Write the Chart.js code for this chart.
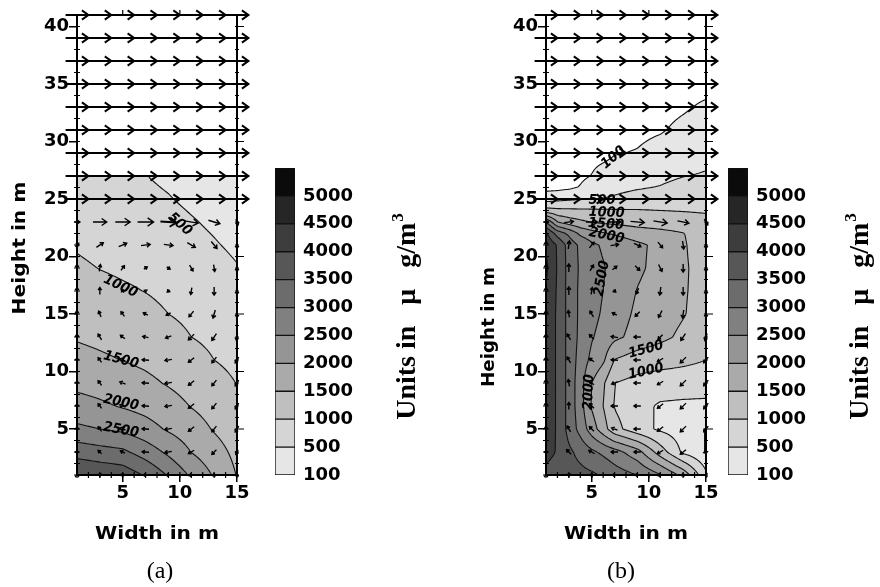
<!DOCTYPE html>
<html>
<head>
<meta charset="utf-8">
<script src="https://cdn.jsdelivr.net/npm/chart.js@4.4.1/dist/chart.umd.min.js"></script>
<style>
  body { margin: 0; background: #fff; width: 880px; height: 587px; position: relative; overflow: hidden; }
  canvas { position: absolute; top: 0; }
</style>
</head>
<body>
<canvas id="panelA" width="262" height="587" style="left:0px"></canvas>
<canvas id="barA" width="178" height="587" style="left:262px"></canvas>
<canvas id="panelB" width="280" height="587" style="left:440px"></canvas>
<canvas id="barB" width="165" height="587" style="left:715px"></canvas>
<script>
// axis ticks
const widthTicks = [5, 10, 15];
const heightTicks = [5, 10, 15, 20, 25, 30, 35, 40];

// colour scale (µg/m3)
const levels = [100, 500, 1000, 1500, 2000, 2500, 3000, 3500, 4000, 4500, 5000];
const levelLabels = ['100', '500', '1000', '1500', '2000', '2500', '3000', '3500', '4000', '4500', '5000'];
const bandGrays = [230, 213, 191, 170, 149, 128, 108, 87, 61, 38, 11];

// (a) concentration field, rows bottom -> top
const gridXA = [1, 3, 5, 7, 9, 11, 13, 15];
const gridYA = [1, 3, 5, 7, 9, 11, 13, 15, 17, 19, 21, 23, 25, 26.9, 27.1, 41];
const concA = [
  [4000, 3900, 3800, 3450, 2950, 2420, 1950, 1480],
  [3300, 3190, 3100, 2770, 2400, 1990, 1700, 1370],
  [2600, 2500, 2400, 2190, 1940, 1730, 1460, 1250],
  [2180, 2080, 1960, 1840, 1690, 1480, 1310, 1110],
  [1880, 1810, 1720, 1600, 1460, 1320, 1150, 990],
  [1650, 1570, 1490, 1410, 1310, 1160, 1000, 900],
  [1460, 1400, 1340, 1270, 1150, 1000, 910, 800],
  [1330, 1260, 1200, 1130, 1000, 910, 810, 710],
  [1200, 1130, 1060, 990, 900, 810, 720, 620],
  [1070, 990, 930, 880, 810, 720, 630, 520],
  [960, 890, 830, 770, 710, 620, 530, 430],
  [860, 800, 740, 670, 620, 530, 440, 340],
  [790, 720, 660, 580, 520, 430, 350, 240],
  [720, 660, 600, 510, 440, 350, 300, 200],
  [null, null, null, null, null, null, null, null],
  [null, null, null, null, null, null, null, null]
];

// (b) concentration field, rows bottom -> top
const gridXB = [1, 2, 3, 4, 5, 6, 7, 9, 11, 13, 15];
const gridYB = [1, 3, 5, 7, 9, 11, 13, 15, 17, 19, 21, 22, 23, 24, 25, 26, 27, 29, 31, 33, 35, 41];
const concB = [
  [3800, 3750, 3700, 3650, 3580, 3450, 3250, 3000, 2550, 1850, 600],
  [4200, 3950, 3600, 3350, 3100, 2900, 2700, 2200, 1250, 400, 80],
  [4300, 3940, 3330, 2830, 2250, 1720, 1170, 700, 420, 250, 90],
  [4300, 3940, 3330, 2710, 1950, 1500, 970, 680, 430, 380, 350],
  [4300, 3940, 3330, 2710, 2000, 1580, 1000, 850, 800, 800, 800],
  [4300, 3940, 3330, 2800, 2380, 2090, 1480, 1250, 1150, 1080, 1000],
  [4300, 3940, 3330, 2880, 2540, 2330, 2110, 1830, 1620, 1400, 1150],
  [4300, 3940, 3330, 2900, 2650, 2440, 2230, 1910, 1720, 1530, 1300],
  [4450, 3940, 3330, 2900, 2700, 2500, 2320, 1980, 1750, 1540, 1350],
  [4600, 3960, 3330, 2930, 2720, 2530, 2380, 2090, 1840, 1550, 1350],
  [4450, 3950, 3300, 2900, 2600, 2440, 2330, 2100, 1870, 1540, 1300],
  [4100, 3300, 2900, 2400, 2200, 2050, 1950, 1750, 1650, 1520, 1250],
  [3000, 2000, 1750, 1600, 1470, 1420, 1380, 1300, 1250, 1200, 1150],
  [1200, 1120, 1100, 1080, 1070, 1060, 1050, 1030, 1000, 980, 950],
  [300, 380, 430, 470, 500, 510, 560, 680, 750, 800, 830],
  [0, 0, 40, 120, 250, 330, 380, 460, 520, 620, 700],
  [0, 0, 0, 40, 110, 230, 280, 360, 410, 490, 530],
  [0, 0, 0, 0, 0, 0, 80, 120, 230, 335, 400],
  [0, 0, 0, 0, 0, 0, 0, 20, 70, 180, 270],
  [0, 0, 0, 0, 0, 0, 0, 0, 0, 60, 150],
  [0, 0, 0, 0, 0, 0, 0, 0, 0, 0, 0],
  [0, 0, 0, 0, 0, 0, 0, 0, 0, 0, 0]
];

// wind vectors, rows top (41) -> bottom (1)
const arrowCols = [1, 3, 5, 7, 9, 11, 13, 15];
const arrowRows = [41, 39, 37, 35, 33, 31, 29, 27, 25, 23, 21, 19, 17, 15, 13, 11, 9, 7, 5, 3, 1];
const windUA = [
  [1, 1, 1, 1, 1, 1, 1, 1],
  [1, 1, 1, 1, 1, 1, 1, 1],
  [1, 1, 1, 1, 1, 1, 1, 1],
  [1, 1, 1, 1, 1, 1, 1, 1],
  [1, 1, 1, 1, 1, 1, 1, 1],
  [1, 1, 1, 1, 1, 1, 1, 1],
  [1, 1, 1, 1, 1, 1, 1, 1],
  [1, 1, 1, 1, 1, 1, 1, 1],
  [1, 1, 1, 1, 1, 1, 1, 1],
  [0.25, 0.6, 0.65, 0.7, 0.7, 0.6, 0.5, 0.1],
  [0.15, 0.3, 0.35, 0.4, 0.4, 0.35, 0.25, 0],
  [0, 0.05, 0.15, 0.15, 0.15, 0.15, 0.05, 0],
  [0, 0, -0.1, -0.1, -0.1, -0.05, 0, 0],
  [0, -0.1, -0.15, -0.2, -0.2, -0.2, -0.1, 0],
  [0, -0.15, -0.2, -0.25, -0.25, -0.25, -0.2, -0.05],
  [0, -0.15, -0.25, -0.3, -0.3, -0.25, -0.2, -0.15],
  [0, -0.15, -0.25, -0.3, -0.3, -0.25, -0.2, -0.15],
  [0, -0.15, -0.25, -0.3, -0.3, -0.25, -0.2, -0.15],
  [0, -0.15, -0.25, -0.3, -0.3, -0.25, -0.2, -0.15],
  [0, -0.15, -0.2, -0.3, -0.3, -0.25, -0.2, -0.1],
  [0, -0.1, -0.15, -0.2, -0.2, -0.2, -0.15, -0.1]
];
const windVA = [
  [0, 0, 0, 0, 0, 0, 0, 0],
  [0, 0, 0, 0, 0, 0, 0, 0],
  [0, 0, 0, 0, 0, 0, 0, 0],
  [0, 0, 0, 0, 0, 0, 0, 0],
  [0, 0, 0, 0, 0, 0, 0, 0],
  [0, 0, 0, 0, 0, 0, 0, 0],
  [0, 0, 0, 0, 0, 0, 0, 0],
  [0, 0, 0, 0, 0, 0, 0, 0],
  [0, 0, 0, 0, 0, 0, 0, 0],
  [0, 0, 0, 0, -0.05, -0.1, -0.15, -0.25],
  [0.15, 0.2, 0.15, 0.05, -0.05, -0.2, -0.3, -0.3],
  [0.3, 0.3, 0.2, 0.1, -0.1, -0.25, -0.3, -0.3],
  [0.3, 0.3, 0.15, 0.05, -0.1, -0.3, -0.35, -0.3],
  [0.3, 0.25, 0.2, 0.1, -0.1, -0.25, -0.35, -0.3],
  [0.25, 0.25, 0.15, 0.05, -0.1, -0.25, -0.3, -0.3],
  [0.2, 0.2, 0.1, 0.02, -0.05, -0.2, -0.25, -0.25],
  [0.2, 0.2, 0.1, 0.02, -0.05, -0.2, -0.25, -0.25],
  [0.2, 0.2, 0.1, 0.02, -0.05, -0.2, -0.25, -0.25],
  [0.2, 0.2, 0.1, 0.02, -0.05, -0.2, -0.25, -0.25],
  [0.15, 0.15, 0.1, 0.02, -0.05, -0.15, -0.2, -0.2],
  [0.05, 0.05, 0.05, 0, 0, -0.05, -0.05, -0.05]
];
const windUB = [
  [1, 1, 1, 1, 1, 1, 1, 1],
  [1, 1, 1, 1, 1, 1, 1, 1],
  [1, 1, 1, 1, 1, 1, 1, 1],
  [1, 1, 1, 1, 1, 1, 1, 1],
  [1, 1, 1, 1, 1, 1, 1, 1],
  [1, 1, 1, 1, 1, 1, 1, 1],
  [1, 1, 1, 1, 1, 1, 1, 1],
  [1, 1, 1, 1, 1, 1, 1, 1],
  [1, 1, 1, 1, 1, 1, 1, 1],
  [0.2, 0.4, 0.5, 0.55, 0.6, 0.6, 0.5, 0.15],
  [0, 0.05, 0.2, 0.35, 0.3, 0.2, 0.05, 0],
  [0, 0, 0.15, 0.2, 0.2, 0.15, 0, 0],
  [0, 0, 0.05, 0.1, -0.1, -0.05, 0, 0],
  [0, -0.05, -0.15, -0.2, -0.2, -0.15, -0.05, 0],
  [0, -0.15, -0.2, -0.3, -0.3, -0.2, -0.2, -0.1],
  [0, -0.15, -0.2, -0.3, -0.3, -0.25, -0.25, -0.2],
  [0, -0.05, -0.2, -0.25, -0.3, -0.25, -0.25, -0.2],
  [0, 0, -0.2, -0.3, -0.3, -0.25, -0.25, -0.2],
  [0, -0.15, -0.2, -0.25, -0.3, -0.25, -0.25, -0.2],
  [0, -0.2, -0.25, -0.3, -0.3, -0.25, -0.25, -0.2],
  [0, -0.1, -0.15, -0.2, -0.2, -0.2, -0.15, -0.1]
];
const windVB = [
  [0, 0, 0, 0, 0, 0, 0, 0],
  [0, 0, 0, 0, 0, 0, 0, 0],
  [0, 0, 0, 0, 0, 0, 0, 0],
  [0, 0, 0, 0, 0, 0, 0, 0],
  [0, 0, 0, 0, 0, 0, 0, 0],
  [0, 0, 0, 0, 0, 0, 0, 0],
  [0, 0, 0, 0, 0, 0, 0, 0],
  [0, 0, 0, 0, 0, 0, 0, 0],
  [0, 0, 0, 0, 0, 0, 0, 0],
  [0, 0.05, 0, 0, -0.05, -0.1, -0.1, -0.25],
  [0.3, 0.35, 0.25, 0.05, -0.15, -0.25, -0.35, -0.3],
  [0.3, 0.35, 0.25, 0.15, -0.2, -0.3, -0.35, -0.3],
  [0.3, 0.35, 0.3, -0.1, -0.25, -0.35, -0.35, -0.3],
  [0.3, 0.3, 0.25, 0.1, -0.2, -0.3, -0.35, -0.3],
  [0.25, 0.25, 0.2, 0.05, 0, -0.2, -0.3, -0.3],
  [0.25, 0.25, 0.15, 0.02, 0, -0.15, -0.25, -0.25],
  [0.3, 0.3, 0.15, -0.1, 0, -0.15, -0.25, -0.25],
  [0.3, 0.3, 0.2, 0, 0, -0.2, -0.25, -0.25],
  [0.25, 0.25, 0.2, 0.1, 0, -0.2, -0.25, -0.25],
  [0.15, 0.2, 0.15, 0, 0, -0.15, -0.2, -0.05],
  [0.05, 0.05, 0, 0, 0, -0.05, -0.05, 0]
];

// contour line levels and inline labels
const contourLevelsA = [500, 1000, 1500, 2000, 2500, 3000, 3500];
const contourLevelsB = [100, 500, 1000, 1500, 2000, 2500, 3000, 3500, 4000, 4500];
const contourLabelsA = [
  { text: '500', x: 10.0, y: 22.8, angle: 42 },
  { text: '1000', x: 4.8, y: 17.4, angle: 25 },
  { text: '1500', x: 4.85, y: 11.0, angle: 15 },
  { text: '2000', x: 4.85, y: 7.3, angle: 12 },
  { text: '2500', x: 4.85, y: 4.9, angle: 10 }
];
const contourLabelsB = [
  { text: '100', x: 6.9, y: 28.6, angle: -40 },
  { text: '500', x: 5.9, y: 24.9, angle: 0 },
  { text: '1000', x: 6.3, y: 23.8, angle: 2 },
  { text: '1500', x: 6.25, y: 22.8, angle: 4 },
  { text: '2000', x: 6.3, y: 21.8, angle: 12 },
  { text: '2500', x: 5.9, y: 18.1, angle: -80 },
  { text: '1500', x: 9.75, y: 11.9, angle: -15 },
  { text: '1000', x: 9.75, y: 10.0, angle: -12 },
  { text: '2000', x: 4.76, y: 8.2, angle: -88 }
];

function cellIndex(arr, v) {
  let i = 0;
  while (i < arr.length - 2 && v > arr[i + 1]) i++;
  return i;
}

function sampleField(gx, gy, rows, x, y) {
  x = Math.min(Math.max(x, gx[0]), gx[gx.length - 1]);
  y = Math.min(Math.max(y, gy[0]), gy[gy.length - 1]);
  const i = cellIndex(gx, x), j = cellIndex(gy, y);
  const tx = (x - gx[i]) / (gx[i + 1] - gx[i]);
  const ty = (y - gy[j]) / (gy[j + 1] - gy[j]);
  const a = rows[j][i], b = rows[j][i + 1], c = rows[j + 1][i], d = rows[j + 1][i + 1];
  const lo = (a == null || b == null) ? null : a + (b - a) * tx;
  const hi = (c == null || d == null) ? null : c + (d - c) * tx;
  if (lo == null || hi == null) return ty < 0.5 ? lo : hi;
  return lo + (hi - lo) * ty;
}

function shadeOf(v) {
  if (v == null || v < levels[0]) return 255;
  let k = 0;
  while (k + 1 < levels.length && v >= levels[k + 1]) k++;
  return bandGrays[k];
}

function drawArrow(ctx, x1, y1, x2, y2) {
  const len = Math.hypot(x2 - x1, y2 - y1);
  if (len < 0.5) return;
  const long = len > 16;
  const head = long ? 8 : Math.max(3.2, len * 0.45);
  const spread = long ? 0.62 : 0.6;
  const ang = Math.atan2(y2 - y1, x2 - x1);
  ctx.lineWidth = long ? 2 : 1.4;
  ctx.beginPath();
  ctx.moveTo(x1, y1);
  ctx.lineTo(x2, y2);
  ctx.moveTo(x2 - head * Math.cos(ang - spread), y2 - head * Math.sin(ang - spread));
  ctx.lineTo(x2, y2);
  ctx.lineTo(x2 - head * Math.cos(ang + spread), y2 - head * Math.sin(ang + spread));
  ctx.stroke();
}

function stretchedText(ctx, text, x, y, rot, size, len) {
  ctx.save();
  ctx.translate(x, y);
  ctx.rotate(rot);
  ctx.font = 'bold ' + size + 'px "DejaVu Sans"';
  const k = len / ctx.measureText(text).width;
  ctx.scale(k, 1);
  ctx.textAlign = 'center';
  ctx.textBaseline = 'middle';
  ctx.fillStyle = '#000';
  ctx.fillText(text, 0, 0);
  ctx.restore();
}

function makeFieldPlugin(cfg) {
  return {
    id: 'field',
    beforeDraw(chart) {
      const ctx = chart.ctx, sx = chart.scales.x, sy = chart.scales.y;
      const ca = chart.chartArea;
      const x0 = Math.round(ca.left), y0 = Math.round(ca.top);
      const w = Math.round(ca.right) - x0, h = Math.round(ca.bottom) - y0;
      const img = ctx.createImageData(w, h);
      for (let j = 0; j < h; j++) {
        const yv = sy.getValueForPixel(y0 + j + 0.5);
        for (let i = 0; i < w; i++) {
          const g = shadeOf(sampleField(cfg.gx, cfg.gy, cfg.conc, sx.getValueForPixel(x0 + i + 0.5), yv));
          const p = (j * w + i) * 4;
          img.data[p] = g; img.data[p + 1] = g; img.data[p + 2] = g; img.data[p + 3] = 255;
        }
      }
      ctx.putImageData(img, x0, y0);
    },
    afterDraw(chart) {
      const ctx = chart.ctx, sx = chart.scales.x, sy = chart.scales.y;
      const { left, right, top, bottom } = chart.chartArea;
      ctx.save();

      // contour lines (marching squares on a 2px lattice)
      const step = 2, pxs = [], pys = [];
      for (let p = left; p < right; p += step) pxs.push(p);
      pxs.push(right);
      for (let p = top; p < bottom; p += step) pys.push(p);
      pys.push(bottom);
      const G = pys.map(py => {
        const yv = sy.getValueForPixel(py);
        return pxs.map(px => sampleField(cfg.gx, cfg.gy, cfg.conc, sx.getValueForPixel(px), yv));
      });
      ctx.strokeStyle = '#111';
      ctx.lineWidth = 1.1;
      ctx.beginPath();
      for (const L of cfg.lineLevels) {
        for (let j = 0; j < pys.length - 1; j++) {
          for (let i = 0; i < pxs.length - 1; i++) {
            const v0 = G[j][i], v1 = G[j][i + 1], v2 = G[j + 1][i + 1], v3 = G[j + 1][i];
            if (v0 == null || v1 == null || v2 == null || v3 == null) continue;
            const xa = pxs[i], xb = pxs[i + 1], ya = pys[j], yb = pys[j + 1];
            const pts = [];
            if ((v0 >= L) !== (v1 >= L)) pts.push([xa + (xb - xa) * (L - v0) / (v1 - v0), ya]);
            if ((v1 >= L) !== (v2 >= L)) pts.push([xb, ya + (yb - ya) * (L - v1) / (v2 - v1)]);
            if ((v3 >= L) !== (v2 >= L)) pts.push([xa + (xb - xa) * (L - v3) / (v2 - v3), yb]);
            if ((v0 >= L) !== (v3 >= L)) pts.push([xa, ya + (yb - ya) * (L - v0) / (v3 - v0)]);
            for (let k = 0; k + 1 < pts.length; k += 2) {
              ctx.moveTo(pts[k][0], pts[k][1]);
              ctx.lineTo(pts[k + 1][0], pts[k + 1][1]);
            }
          }
        }
      }
      ctx.stroke();

      // contour labels
      ctx.fillStyle = '#000';
      ctx.font = 'italic bold 14px "DejaVu Sans"';
      ctx.textAlign = 'center';
      ctx.textBaseline = 'middle';
      cfg.labels.forEach(l => {
        ctx.save();
        ctx.translate(sx.getPixelForValue(l.x), sy.getPixelForValue(l.y));
        ctx.rotate(l.angle * Math.PI / 180);
        ctx.scale(0.92, 1);
        ctx.fillText(l.text, 0, 0);
        ctx.restore();
      });

      // frame (top, right) and minor ticks
      ctx.strokeStyle = '#000';
      ctx.lineWidth = 2;
      ctx.beginPath();
      ctx.moveTo(left - 1, top); ctx.lineTo(right, top); ctx.lineTo(right, bottom);
      ctx.stroke();
      ctx.lineWidth = 1.2;
      ctx.beginPath();
      for (let v = 1; v <= 41; v++) {
        const py = sy.getPixelForValue(v);
        ctx.moveTo(left - 3, py); ctx.lineTo(left + 3, py);
        ctx.moveTo(right - 2, py); ctx.lineTo(right + 2, py);
      }
      for (let v = 1; v <= 15; v++) {
        const px = sx.getPixelForValue(v);
        ctx.moveTo(px, bottom - 3); ctx.lineTo(px, bottom + 3);
      }
      heightTicks.forEach(v => {
        const py = sy.getPixelForValue(v);
        ctx.moveTo(right, py); ctx.lineTo(right + 7, py);
      });
      [5, 10].forEach(v => {
        const px = sx.getPixelForValue(v);
        ctx.moveTo(px, top); ctx.lineTo(px, top - 5);
      });
      ctx.stroke();

      // wind vectors
      ctx.strokeStyle = '#000';
      arrowRows.forEach((yv, r) => {
        arrowCols.forEach((xv, c) => {
          const u = cfg.U[r][c], v = cfg.V[r][c];
          if (u === 0 && v === 0) return;
          drawArrow(ctx,
            sx.getPixelForValue(xv - u), sy.getPixelForValue(yv - v),
            sx.getPixelForValue(xv + u), sy.getPixelForValue(yv + v));
        });
      });

      // axis titles and panel letter
      const cx = (left + right) / 2;
      stretchedText(ctx, 'Height in m', left - 56, cfg.heightY, -Math.PI / 2, 17, cfg.heightLen);
      stretchedText(ctx, 'Width in m', cx, 535, 0, 17, 124);
      ctx.font = '24px "Liberation Serif"';
      ctx.textAlign = 'center';
      ctx.textBaseline = 'middle';
      ctx.fillStyle = '#000';
      ctx.fillText(cfg.letter, cx + cfg.letterDX, 572);
      ctx.restore();
    }
  };
}

const tickFont = { family: 'DejaVu Sans', size: 18, weight: 'bold' };

function panelChart(id, cfg) {
  return new Chart(document.getElementById(id), {
    type: 'scatter',
    data: { datasets: [] },
    options: {
      responsive: false,
      animation: false,
      layout: { padding: { top: 15, left: 0, right: cfg.padRight, bottom: 0 } },
      plugins: { legend: { display: false }, tooltip: { enabled: false } },
      scales: {
        x: {
          type: 'linear', min: 1, max: 15,
          afterBuildTicks: s => { s.ticks = widthTicks.map(v => ({ value: v })); },
          afterFit: s => { s.height = 112; },
          ticks: { font: tickFont, color: '#000', padding: 1, autoSkip: false, maxRotation: 0 },
          grid: { drawOnChartArea: false, tickLength: 7, color: '#000', lineWidth: 1.5 },
          border: { display: true, color: '#000', width: 2 }
        },
        y: {
          type: 'linear', min: 1, max: 41,
          afterBuildTicks: s => { s.ticks = heightTicks.map(v => ({ value: v })); },
          afterFit: s => { s.width = cfg.yWidth; },
          ticks: { font: tickFont, color: '#000', padding: 0, autoSkip: false },
          grid: { drawOnChartArea: false, tickLength: 8, color: '#000', lineWidth: 1.5 },
          border: { display: true, color: '#000', width: 2 }
        }
      }
    },
    plugins: [makeFieldPlugin(cfg)]
  });
}

function colorbarChart(id, yWidth) {
  const unitsPlugin = {
    id: 'units',
    afterDraw(chart) {
      const ctx = chart.ctx, ca = chart.chartArea;
      ctx.save();
      ctx.translate(ca.right + 120, 317);
      ctx.rotate(-Math.PI / 2);
      ctx.fillStyle = '#000';
      ctx.font = 'bold 28px "Liberation Serif"';
      const main = 'Units in   \u03bc   g/m';
      const wMain = ctx.measureText(main).width;
      ctx.font = 'bold 17px "Liberation Serif"';
      const wSup = ctx.measureText('3').width;
      const start = -(wMain + wSup) / 2;
      ctx.textAlign = 'left';
      ctx.textBaseline = 'alphabetic';
      ctx.font = 'bold 28px "Liberation Serif"';
      ctx.fillText(main, start, 0);
      ctx.font = 'bold 17px "Liberation Serif"';
      ctx.fillText('3', start + wMain + 1, -12);
      ctx.restore();
    }
  };
  return new Chart(document.getElementById(id), {
    type: 'bar',
    data: {
      labels: [''],
      datasets: bandGrays.map(g => ({
        data: [1],
        backgroundColor: 'rgb(' + g + ',' + g + ',' + g + ')',
        borderColor: '#111',
        borderWidth: 1,
        borderSkipped: false,
        barPercentage: 1,
        categoryPercentage: 1
      }))
    },
    options: {
      responsive: false,
      animation: false,
      layout: { padding: { left: 13, top: 168, bottom: 112, right: 0 } },
      plugins: { legend: { display: false }, tooltip: { enabled: false } },
      scales: {
        x: { stacked: true, display: false },
        y: {
          stacked: true, position: 'right', min: 0, max: levels.length,
          afterBuildTicks: s => { s.ticks = levelLabels.map((t, i) => ({ value: i })); },
          afterFit: s => { s.width = yWidth; },
          ticks: { autoSkip: false, padding: 8, color: '#000', font: { family: 'DejaVu Sans', size: 18, weight: 'bold' },
                   callback: v => levelLabels[v] },
          grid: { display: false, drawTicks: false },
          border: { display: false }
        }
      }
    },
    plugins: [unitsPlugin]
  });
}

panelChart('panelA', {
  gx: gridXA, gy: gridYA, conc: concA, lineLevels: contourLevelsA, labels: contourLabelsA,
  U: windUA, V: windVA, yWidth: 77, padRight: 25, heightY: 248, heightLen: 133, letter: '(a)', letterDX: 3
});
panelChart('panelB', {
  gx: gridXB, gy: gridYB, conc: concB, lineLevels: contourLevelsB, labels: contourLabelsB,
  U: windUB, V: windVB, yWidth: 106, padRight: 14, heightY: 327, heightLen: 120, letter: '(b)', letterDX: -5
});
colorbarChart('barA', 145);
colorbarChart('barB', 132);
</script>
</body>
</html>
